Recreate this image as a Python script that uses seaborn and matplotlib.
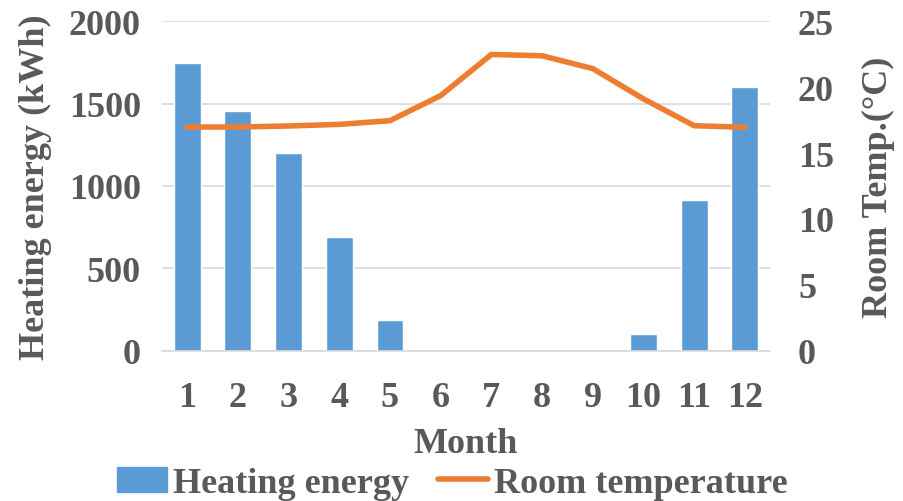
import matplotlib
matplotlib.use("Agg")
import matplotlib.pyplot as plt
import seaborn as sns
import numpy as np
import pandas as pd
from matplotlib.patches import Patch
from matplotlib.lines import Line2D

months = ["1", "2", "3", "4", "5", "6", "7", "8", "9", "10", "11", "12"]
heating_energy = [1745, 1452, 1200, 692, 185, 0, 0, 0, 0, 104, 917, 1600]
room_temp = [16.97, 16.97, 17.05, 17.17, 17.45, 19.35, 22.47, 22.37, 21.4, 19.1, 17.07, 16.95]
left_ticks = [0, 500, 1000, 1500, 2000]
right_ticks = [0, 5, 10, 15, 20, 25]

BLUE = "#5B9BD5"
ORANGE = "#ED7D31"
TXT = "#595959"
GRID = "#D9D9D9"

sns.set_theme(style="white")
plt.rcParams["font.family"] = ["Liberation Serif", "DejaVu Serif"]
plt.rcParams["font.weight"] = "bold"

df = pd.DataFrame({"Month": months, "Heating": heating_energy, "Temp": room_temp})

fig = plt.figure(figsize=(9.04, 5.02), dpi=100)
ax = fig.add_axes([0.179, 0.299, 0.673, 0.657])
sns.barplot(data=df, x="Month", y="Heating", color=BLUE, width=0.53, ax=ax,
            saturation=1, zorder=2)
ax.set_ylim(0, 2000)
ax.set_xlim(-0.5, 11.5)
ax.set_yticks(left_ticks)
ax.yaxis.grid(True, color=GRID, lw=1.2, zorder=0)
ax.set_axisbelow(True)
for s in ["top", "left", "right"]:
    ax.spines[s].set_visible(False)
ax.spines["bottom"].set_color(GRID)
ax.spines["bottom"].set_linewidth(1.2)
ax.tick_params(axis="y", length=0, labelsize=26, labelcolor=TXT, pad=15)
ax.tick_params(axis="x", length=0, labelsize=26, labelcolor=TXT, pad=22)
ax.set_xlabel("Month", fontsize=26, color=TXT, fontweight="bold", labelpad=9)
ax.set_ylabel("Heating energy (kWh)", fontsize=26, color=TXT, fontweight="bold", labelpad=12)

ax2 = ax.twinx()
xpos = np.arange(len(months))
sns.lineplot(x=xpos, y=room_temp, color=ORANGE, lw=4, ax=ax2, solid_capstyle="round")
ax2.set_ylim(0, 25)
ax2.set_yticks(right_ticks)
for s in ["top", "left", "right", "bottom"]:
    ax2.spines[s].set_visible(False)
ax2.tick_params(axis="y", length=0, labelsize=26, labelcolor=TXT, pad=20)
ax2.set_ylabel("Room Temp.(\u00b0C)", fontsize=26, color=TXT, fontweight="bold", labelpad=20)
ax2.set_xlim(-0.5, 11.5)

handles = [Patch(facecolor=BLUE, edgecolor=BLUE),
           Line2D([0], [0], color=ORANGE, lw=4)]
leg = fig.legend(handles, ["Heating energy", "Room temperature"], loc="center",
                 bbox_to_anchor=(0.5, 0.035), ncol=2, frameon=False,
                 prop={"size": 26, "weight": "bold"}, handlelength=1.4,
                 handletextpad=0.15, columnspacing=0.8)
for t in leg.get_texts():
    t.set_color(TXT)

fig.savefig("out.png", dpi=100)
